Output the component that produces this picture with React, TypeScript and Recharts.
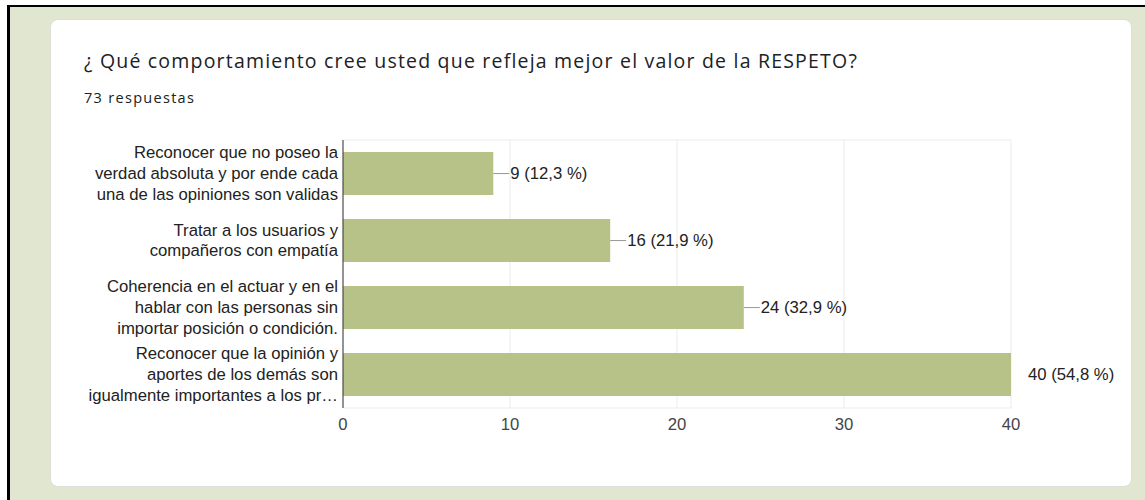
import { BarChart, Bar, XAxis, YAxis, CartesianGrid, LabelList } from 'recharts';

// question options (full text) and how each is wrapped on the axis
const categories = [
  'Reconocer que no poseo la verdad absoluta y por ende cada una de las opiniones son validas',
  'Tratar a los usuarios y compañeros con empatía',
  'Coherencia en el actuar y en el hablar con las personas sin importar posición o condición.',
  'Reconocer que la opinión y aportes de los demás son igualmente importantes a los procesos',
];
const tickLines = [
  ['Reconocer que no poseo la', 'verdad absoluta y por ende cada', 'una de las opiniones son validas'],
  ['Tratar a los usuarios y', 'compañeros con empatía'],
  ['Coherencia en el actuar y en el', 'hablar con las personas sin', 'importar posición o condición.'],
  ['Reconocer que la opinión y', 'aportes de los demás son', 'igualmente importantes a los pr…'],
];
const counts = [9, 16, 24, 40];
const percents = ['12,3 %', '21,9 %', '32,9 %', '54,8 %'];
const xTicks = [0, 10, 20, 30, 40];

const data = categories.map((name, i) => ({ name, value: counts[i] }));

const FONT = 'Arial, "Liberation Sans", sans-serif';
const FS = 16.7;

function CategoryTick(props: any) {
  const { x, y, payload } = props;
  const lines = tickLines[categories.indexOf(payload.value)] || [];
  const lh = 20.8;
  const start = -((lines.length - 1) * lh) / 2;
  return (
    <text x={x} y={y} textAnchor="end" fill="#222" fontSize={FS} fontFamily={FONT}>
      {lines.map((l, i) => (
        <tspan key={i} x={x} y={y + start + i * lh} dominantBaseline="central">
          {l}
        </tspan>
      ))}
    </text>
  );
}

function ValueLabel(props: any) {
  const { x, y, width, height, index } = props;
  const end = x + width;
  const cy = y + height / 2;
  const v = counts[index];
  return (
    <g>
      {v < xTicks[xTicks.length - 1] && (
        <line x1={end} y1={cy} x2={end + 16} y2={cy} stroke="#999" strokeWidth={1} />
      )}
      <text x={end + 17} y={cy} dominantBaseline="central" fill="#222" fontSize={FS} fontFamily={FONT}>
        {`${v} (${percents[index]})`}
      </text>
    </g>
  );
}

export default function App() {
  return (
    <div style={{ position: 'fixed', left: 0, top: 0, width: 1145, height: 500, background: '#fff', overflow: 'hidden' }}>
      <div
        style={{
          position: 'absolute',
          left: 7,
          top: 5,
          right: 0,
          bottom: 0,
          background: '#e1e6d1',
          borderTop: '2px solid #000',
          borderLeft: '3px solid #000',
        }}
      />
      {/* card */}
      <div
        style={{
          position: 'absolute',
          left: 50,
          top: 19,
          width: 1082,
          height: 468,
          background: '#fff',
          borderRadius: 8,
          boxSizing: 'border-box',
          border: '1px solid #dcdfd8',
        }}
      />
      <div
        style={{
          position: 'absolute',
          left: 84,
          top: 51,
          fontFamily: '"Open Sans", sans-serif',
          fontSize: 19.5,
          letterSpacing: 1.2,
          lineHeight: 1,
          color: '#202124',
          whiteSpace: 'nowrap',
        }}
      >
        ¿ Qué comportamiento cree usted que refleja mejor el valor de la RESPETO?
      </div>
      <div
        style={{
          position: 'absolute',
          left: 84,
          top: 91,
          fontFamily: '"Open Sans", sans-serif',
          fontSize: 14.5,
          letterSpacing: 1.3,
          lineHeight: 1,
          color: '#202124',
          whiteSpace: 'nowrap',
        }}
      >
        73 respuestas
      </div>
      <div style={{ position: 'absolute', left: 0, top: 0 }}>
        <BarChart
          width={1145}
          height={500}
          data={data}
          layout="vertical"
          margin={{ top: 140, right: 134, bottom: 62, left: 0 }}
          barCategoryGap="18%"
        >
          <CartesianGrid
            stroke="#ebebeb"
            horizontalCoordinatesGenerator={({ offset }: any) => [offset.top, offset.top + offset.height]}
          />
          <XAxis
            type="number"
            domain={[0, 40]}
            ticks={xTicks}
            axisLine={false}
            tickLine={false}
            tickSize={0}
            tickMargin={10}
            height={30}
            tick={{ fill: '#444', fontSize: FS, fontFamily: FONT }}
          />
          <YAxis
            type="category"
            dataKey="name"
            width={343}
            axisLine={{ stroke: '#333' }}
            tickLine={false}
            tickSize={0}
            tickMargin={5}
            tick={<CategoryTick />}
          />
          <Bar dataKey="value" fill="#b6c287" isAnimationActive={false}>
            <LabelList dataKey="value" content={<ValueLabel />} />
          </Bar>
        </BarChart>
      </div>
    </div>
  );
}
